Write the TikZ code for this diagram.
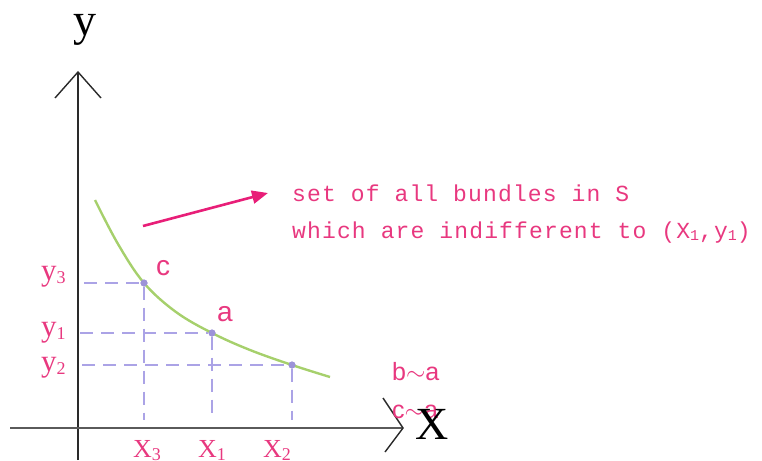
\documentclass[tikz,border=0pt]{standalone}
\usepackage{fontspec}
\setmainfont{Liberation Serif}
\newfontfamily\sansf{Liberation Sans}
\newfontfamily\monof[LetterSpace=5]{Liberation Mono}
\usetikzlibrary{arrows.meta}
\definecolor{pinktxt}{HTML}{E8387F}
\definecolor{pinkarr}{HTML}{E81E78}
\definecolor{curvegreen}{HTML}{A6D06C}
\definecolor{lav}{HTML}{ABA3E6}
\definecolor{dotc}{HTML}{9C93D8}
\definecolor{axisdark}{HTML}{2A2A2A}
\definecolor{axisgray}{HTML}{5A5A5A}
\tikzset{
  yaxis/.style={draw=axisdark, line width=1.4pt},
  xaxis/.style={draw=axisgray, line width=2.4pt},
  headline/.style={draw=axisdark, line width=1.4pt},
  guide/.style={draw=lav, line width=1.2pt, dash pattern=on 13pt off 8pt},
  dotpt/.style={circle, fill=dotc, inner sep=0pt, minimum size=7pt},
  axlabel/.style={inner sep=0pt, font=\fontsize{46}{46}\selectfont, text=black},
  vlab/.style={inner sep=0pt, anchor=base west, text=pinktxt, font=\fontsize{31}{31}\selectfont},
  hlab/.style={inner sep=0pt, anchor=base west, text=pinktxt, font=\fontsize{26}{26}\selectfont},
  ptlab/.style={inner sep=0pt, anchor=base west, text=pinktxt, font=\sansf\fontsize{28}{28}\selectfont},
  rel/.style={inner sep=0pt, anchor=base west, text=pinktxt, font=\sansf\fontsize{25}{25}\selectfont},
  note/.style={inner sep=0pt, anchor=base west, text=pinktxt, font=\monof\fontsize{23}{23}\selectfont},
}
\newcommand{\subsm}[1]{\lower3pt\hbox{\fontsize{18}{18}\selectfont #1}}
\newcommand{\subnote}[1]{\lower2pt\hbox{\fontsize{15}{15}\selectfont #1}}
\begin{document}
\begin{tikzpicture}[x=1pt,y=-1pt]
\useasboundingbox (0,0) rectangle (762,460);
% axes
\coordinate (yb) at (78,460);
\coordinate (yt) at (78,72);
\coordinate (yw1) at (55,98);
\coordinate (yw2) at (101,98);
\draw[yaxis] (yb) -- (yt);
\draw[headline] (yw1) -- (yt) -- (yw2);
\coordinate (xl) at (10,428);
\coordinate (xt) at (403,428);
\coordinate (xw1) at (383,398);
\coordinate (xw2) at (385,452);
\draw[xaxis] (xl) -- (xt);
\draw[headline] (xw1) -- (xt) -- (xw2);
\node[axlabel] (ylab) at (85,30) {y};
% relations (behind X label)
\node[rel] (ba) at (392,380) {b$\sim$a};
\node[rel] (ca) at (392,418) {c$\sim$a};
\node[axlabel] (xlab) at (432,424) {X};
% points
\node[dotpt] (c) at (144,283) {};
\node[dotpt] (a) at (212,333) {};
\node[dotpt] (b) at (292,365) {};
% guides
\coordinate (cy) at (84,283);
\coordinate (ay) at (80,333);
\coordinate (by) at (82,365);
\coordinate (cx) at (144,420);
\coordinate (ax) at (212,420);
\coordinate (bx) at (292,420);
\draw[guide] (cy) -- (c);
\draw[guide] (ay) -- (a);
\draw[guide] (by) -- (b);
\draw[guide] (c) -- (cx);
\draw[guide] (a) -- (ax);
\draw[guide] (b) -- (bx);
% curve
\draw[curvegreen, line width=2.4pt] plot[smooth, tension=0.6] coordinates {(95,200) (118,244) (144,283) (176,312) (212,333) (250,350) (292,365) (330,377)};
\node[dotpt] at (c) {};
\node[dotpt] at (a) {};
\node[dotpt] at (b) {};
% labels
\node[ptlab] (clab) at (156,275) {c};
\node[ptlab] (alab) at (217,321) {a};
\node[vlab] (y3) at (41,280) {y\subsm{3}};
\node[vlab] (y1) at (41,336) {y\subsm{1}};
\node[vlab] (y2) at (41,371) {y\subsm{2}};
\node[hlab] (x3) at (133,457) {X\subsm{3}};
\node[hlab] (x1) at (198,457) {X\subsm{1}};
\node[hlab] (x2) at (263,457) {X\subsm{2}};
% arrow and note
\coordinate (as) at (143,226);
\coordinate (ae) at (268,193);
\draw[pinkarr, line width=2.6pt, -{Triangle[length=16pt,width=13pt]}] (as) -- (ae);
\node[note] (n1) at (292,201) {set of all bundles in S};
\node[note] (n2) at (292,238) {which are indifferent to (X\subnote{1},y\subnote{1})};
\end{tikzpicture}
\end{document}
